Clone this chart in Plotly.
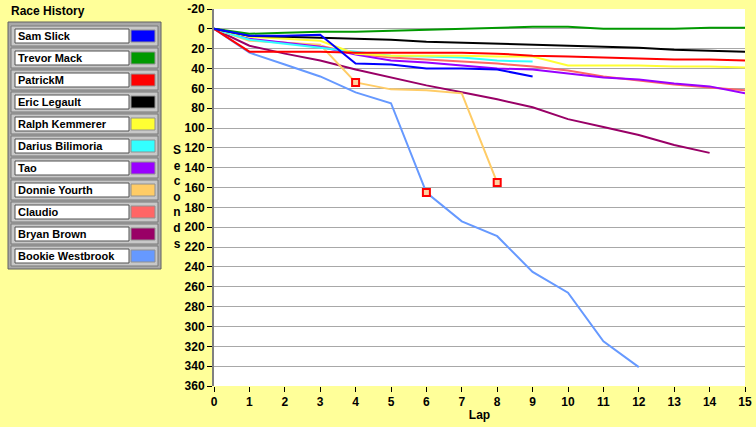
import plotly.graph_objects as go

# lap numbers
LAPS = list(range(16))

DRIVERS = [
    "Sam Slick", "Trevor Mack", "PatrickM", "Eric Legault", "Ralph Kemmerer",
    "Darius Bilimoria", "Tao", "Donnie Yourth", "Claudio", "Bryan Brown",
    "Bookie Westbrook",
]
COLORS = [
    "#0000FF", "#009900", "#FF0000", "#000000", "#FFFF33",
    "#33FFFF", "#9900FF", "#FFCC66", "#FF6666", "#990066", "#6699FF",
]

# seconds behind the leader, per lap
sam_slick = [0, 7, 7, 6, 35, 36, 40, 40, 41, 48]
trevor_mack = [0, 5, 4, 3, 3, 2, 1, 0, -1, -2, -2, 0, 0, 0, -1, -1]
patrick_m = [0, 23, 23, 23, 24, 24, 24, 24, 25, 27, 28, 29, 30, 31, 31, 32]
eric_legault = [0, 7, 8, 9, 10, 11, 13, 14, 15, 16, 17, 18, 19, 21, 22, 23]
ralph_kemmerer = [0, 8, 10, 12, 25, 27, 27, 27, 28, 28, 37, 37, 37, 38, 38, 39]
darius_bilimoria = [0, 11, 15, 19, 23, 27, 28, 29, 32, 33]
tao = [0, 10, 14, 18, 26, 32, 34, 37, 40, 41, 45, 49, 51, 55, 58, 65]
donnie_yourth = [0, 12, 14, 16, 54, 61, 62, 65, 155]
claudio = [0, 11, 14, 17, 25, 29, 31, 33, 35, 38, 42, 48, 52, 56, 59, 62]
bryan_brown = [0, 17, 25, 32, 41, 49, 57, 64, 71, 79, 91, 99, 107, 117, 125]
bookie_westbrook = [0, 24, 36, 48, 64, 75, 165, 194, 209, 245, 266, 315, 341]

SERIES = [
    sam_slick, trevor_mack, patrick_m, eric_legault, ralph_kemmerer,
    darius_bilimoria, tao, donnie_yourth, claudio, bryan_brown, bookie_westbrook,
]

# y ticks (plain hyphen for the negative one, like the original)
Y_TICKS = list(range(-20, 361, 20))
Y_TICK_TEXT = [str(v) for v in Y_TICKS]

# flagged laps (red square markers)
FLAG_DRIVER = [7, 7, 10]
FLAG_LAP = [4, 8, 6]

BG = "#FFFF99"
FONT = "Liberation Sans"

fig = go.Figure()

# draw the last driver first so the top of the list ends up on top
for name, color, values in reversed(list(zip(DRIVERS, COLORS, SERIES))):
    fig.add_trace(
        go.Scatter(
            x=LAPS[: len(values)],
            y=values,
            mode="lines",
            name=name,
            line=dict(color=color, width=2),
        )
    )

fig.add_trace(
    go.Scatter(
        x=FLAG_LAP,
        y=[SERIES[d][lap] for d, lap in zip(FLAG_DRIVER, FLAG_LAP)],
        mode="markers",
        marker=dict(symbol="square", size=7, color="#FFD0A0",
                    line=dict(color="#FF0000", width=2)),
        showlegend=False,
    )
)

# plot area in pixels: x 214..745, y 9..386
px_w, px_h = 531.0, 377.0


def px_x(px):
    return (px - 214) / px_w


def px_y(py):
    return (386 - py) / px_h


# custom legend panel on the left
shapes = [
    dict(type="rect", xref="paper", yref="paper", layer="above",
         x0=px_x(8), x1=px_x(161), y0=px_y(22), y1=px_y(269),
         fillcolor="#A8A8A8", line=dict(color="#606060", width=1)),
]
annotations = [
    dict(text="Race History", xref="paper", yref="paper", x=px_x(9), y=px_y(11),
         xanchor="left", yanchor="middle", showarrow=False,
         font=dict(family=FONT, size=12, color="black", weight="bold")),
    dict(text="S<br>e<br>c<br>o<br>n<br>d<br>s", xref="paper", yref="paper",
         x=px_x(177), y=px_y(197), xanchor="center", yanchor="middle",
         showarrow=False,
         font=dict(family=FONT, size=12, color="black", weight="bold")),
]

for i, (name, color) in enumerate(zip(DRIVERS, COLORS)):
    top = 26 + 22 * i
    shapes.append(dict(type="rect", xref="paper", yref="paper", layer="above",
                       x0=px_x(11), x1=px_x(158), y0=px_y(top), y1=px_y(top + 20),
                       fillcolor="#C8C8C8", line=dict(color="#787878", width=1)))
    shapes.append(dict(type="rect", xref="paper", yref="paper", layer="above",
                       x0=px_x(15), x1=px_x(129), y0=px_y(top + 3), y1=px_y(top + 17),
                       fillcolor="white", line=dict(color="#505050", width=1)))
    shapes.append(dict(type="rect", xref="paper", yref="paper", layer="above",
                       x0=px_x(131), x1=px_x(155), y0=px_y(top + 4), y1=px_y(top + 16),
                       fillcolor=color, line=dict(color="#909090", width=1)))
    annotations.append(dict(text=name, xref="paper", yref="paper",
                            x=px_x(16), y=px_y(top + 10), xanchor="left",
                            yanchor="middle", showarrow=False,
                            font=dict(family=FONT, size=11, color="black",
                                      weight="bold")))

fig.update_layout(
    width=756,
    height=427,
    margin=dict(l=214, r=11, t=9, b=41),
    paper_bgcolor=BG,
    plot_bgcolor="white",
    showlegend=False,
    font=dict(family=FONT, size=12, color="black", weight="bold"),
    xaxis=dict(
        range=[0, 15],
        dtick=1,
        showgrid=False,
        zeroline=False,
        ticks="outside",
        ticklen=5,
        tickcolor="black",
        title=dict(text="Lap", standoff=2, font=dict(size=12)),
        showline=False,
        automargin=False,
    ),
    yaxis=dict(
        range=[360, -20],
        tickmode="array",
        tickvals=Y_TICKS,
        ticktext=Y_TICK_TEXT,
        showgrid=True,
        gridcolor="#A8A8A8",
        gridwidth=1,
        zeroline=False,
        ticks="outside",
        ticklen=5,
        tickcolor="black",
        showline=True,
        linecolor="#808080",
        linewidth=2,
        automargin=False,
    ),
    shapes=shapes,
    annotations=annotations,
)

# the page body has a default margin, drop it so the chart sits at the corner
fig.write_html(
    "out.html",
    config={"displayModeBar": False},
    post_script="document.body.style.margin='0';",
)
